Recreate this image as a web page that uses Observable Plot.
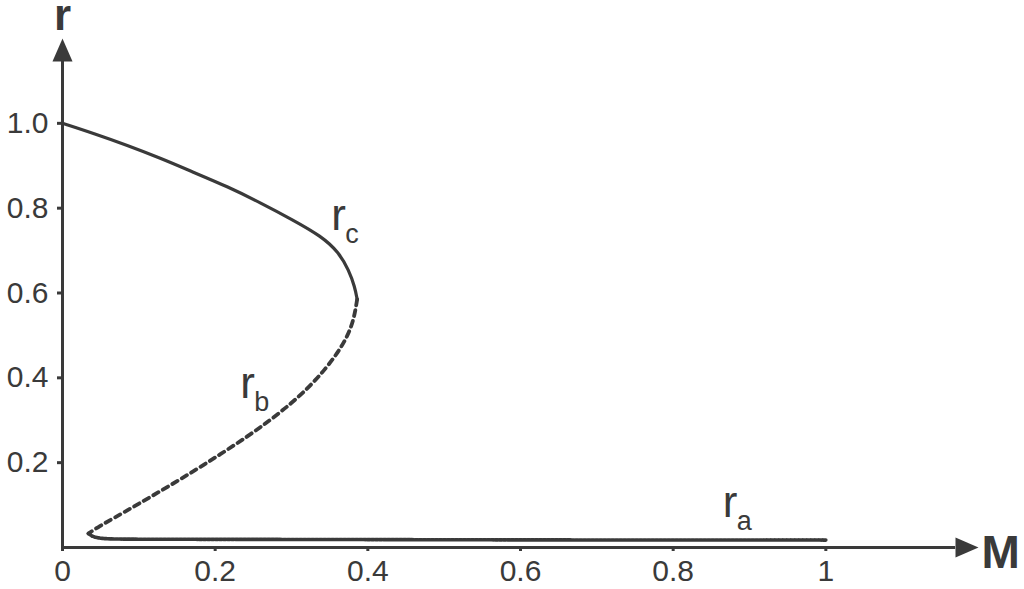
<!DOCTYPE html>
<html>
<head>
<meta charset="utf-8">
<script src="https://cdn.jsdelivr.net/npm/d3@7"></script>
<script src="https://cdn.jsdelivr.net/npm/@observablehq/plot@0.6"></script>
<style>
  html, body { margin: 0; padding: 0; background: #fff; }
  #chart svg { display: block; overflow: visible; }
</style>
</head>
<body>
<div id="chart"></div>
<script>
// Upper stable branch r_c (solid)
const rcM = [0, 0.041, 0.085, 0.128, 0.171, 0.216, 0.259, 0.302, 0.339, 0.362, 0.375, 0.383, 0.386];
const rcR = [1.0, 0.976, 0.948, 0.918, 0.885, 0.851, 0.813, 0.772, 0.734, 0.696, 0.654, 0.614, 0.585];
// Unstable branch r_b (dashed)
const rbM = [0.386, 0.382, 0.374, 0.361, 0.344, 0.324, 0.300, 0.272, 0.241, 0.207, 0.172, 0.135, 0.097, 0.068, 0.048, 0.034];
const rbR = [0.585, 0.540, 0.500, 0.460, 0.420, 0.380, 0.340, 0.300, 0.260, 0.220, 0.180, 0.140, 0.100, 0.070, 0.050, 0.033];
// Lower stable branch r_a (fine dashes)
const raM = [0.034, 0.040, 0.050, 0.070, 0.120, 0.300, 0.600, 1.0];
const raR = [0.033, 0.026, 0.022, 0.020, 0.0195, 0.019, 0.018, 0.0175];

const xTicks = [0, 0.2, 0.4, 0.6, 0.8, 1];
const xTickLabels = ["0", "0.2", "0.4", "0.6", "0.8", "1"];
const yTicks = [0.2, 0.4, 0.6, 0.8, 1.0];
const yTickLabels = ["0.2", "0.4", "0.6", "0.8", "1.0"];

// Curve labels: main letter, subscript, anchor position in data units
const labelMain = ["r", "r", "r"];
const labelSub = ["c", "b", "a"];
const labelM = [0.352, 0.233, 0.865];
const labelR = [0.748, 0.352, 0.073];

const toPts = (M, R) => M.map((m, i) => ({M: m, r: R[i]}));
const rc = toPts(rcM, rcR);
const rb = toPts(rbM, rbR);
const ra = toPts(raM, raR);
const labels = labelMain.map((t, i) => ({t, s: labelSub[i], M: labelM[i], r: labelR[i]}));

const ink = "#3a3a3a";
const arrowHead = {
  draw(ctx) {
    ctx.moveTo(0, 0);
    ctx.lineTo(-10, 23);
    ctx.lineTo(10, 23);
    ctx.closePath();
  }
};

const chart = Plot.plot({
  width: 1024,
  height: 589,
  marginLeft: 62,
  marginRight: 46,
  marginTop: 38,
  marginBottom: 42,
  style: {fontFamily: "'Liberation Sans', Arial, sans-serif", color: ink, background: "#fff"},
  x: {domain: [0, 1.2], axis: null},
  y: {domain: [0, 1.2], axis: null},
  marks: [
    Plot.axisX({ticks: xTicks, tickFormat: (d, i) => xTickLabels[i], tickSize: 4, tickPadding: 8, fontSize: 30, strokeWidth: 3, label: null, stroke: ink, fill: ink}),
    Plot.axisY({ticks: yTicks, tickFormat: (d, i) => yTickLabels[i], tickSize: 5, tickPadding: 9, fontSize: 30, strokeWidth: 3, label: null, stroke: ink, fill: ink}),
    Plot.ruleY([0], {x1: 0, x2: 1.17, stroke: ink, strokeWidth: 3}),
    Plot.ruleX([0], {y1: 0, y2: 1.17, stroke: ink, strokeWidth: 3}),
    Plot.dot([{M: 1.2, r: 0}], {x: "M", y: "r", symbol: arrowHead, fill: ink, stroke: null, rotate: 90}),
    Plot.dot([{M: 0, r: 1.2}], {x: "M", y: "r", symbol: arrowHead, fill: ink, stroke: null}),
    Plot.line(rc, {x: "M", y: "r", curve: "basis", stroke: ink, strokeWidth: 3.2}),
    Plot.line(rb, {x: "M", y: "r", curve: "basis", stroke: ink, strokeWidth: 3.8, strokeDasharray: "6,5"}),
    Plot.line(ra, {x: "M", y: "r", curve: "monotone-x", stroke: ink, strokeWidth: 3.6, strokeDasharray: "3,1"}),
    Plot.text(labels, {x: "M", y: "r", text: "t", textAnchor: "start", lineAnchor: "bottom", fontSize: 44, fill: ink}),
    Plot.text(labels, {x: "M", y: "r", text: "s", textAnchor: "start", lineAnchor: "bottom", fontSize: 27, fill: ink, dx: 14, dy: 13}),
    Plot.text(["r"], {x: 0, y: 1.2, text: d => d, textAnchor: "middle", lineAnchor: "bottom", fontSize: 44, fontWeight: "bold", fill: ink, dy: -9}),
    Plot.text(["M"], {x: 1.2, y: 0, text: d => d, textAnchor: "start", lineAnchor: "bottom", fontSize: 46, fontWeight: "bold", fill: ink, dx: 3, dy: 20})
  ]
});
document.getElementById("chart").appendChild(chart);
</script>
</body>
</html>
